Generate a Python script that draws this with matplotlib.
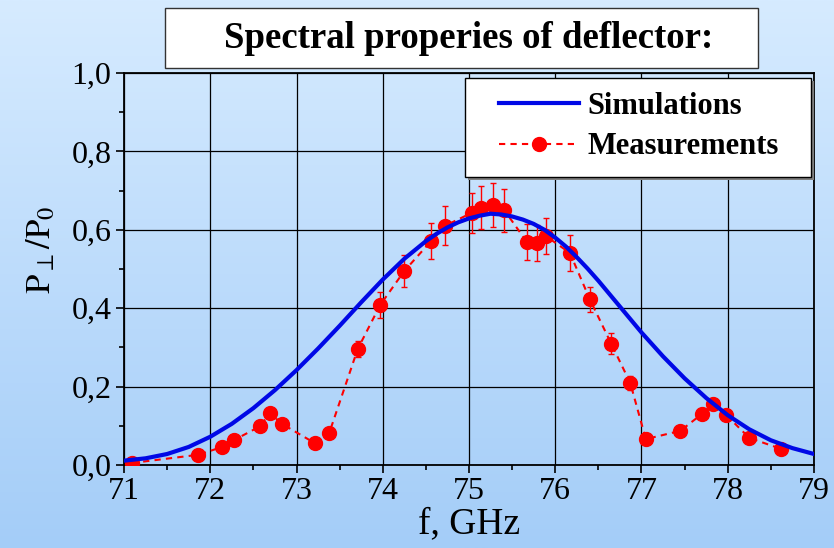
import numpy as np
import matplotlib.pyplot as plt
from matplotlib.patches import Rectangle
from matplotlib.colors import LinearSegmentedColormap

# simulation curve (finer steps around the peak)
sim_f = [71.0, 71.25, 71.5, 71.75, 72.0, 72.25, 72.5, 72.75, 73.0, 73.25, 73.5,
         73.75, 74.0, 74.25, 74.5, 74.625, 74.75, 74.875, 75.0, 75.125, 75.25,
         75.375, 75.5, 75.625, 75.75, 75.875, 76.0, 76.125, 76.25, 76.375,
         76.5, 76.75, 77.0, 77.25, 77.5, 77.75, 78.0, 78.25, 78.5, 78.75, 79.0]
sim_p = [0.011, 0.017, 0.028, 0.046, 0.072, 0.105, 0.145, 0.191, 0.242, 0.297, 0.355,
         0.415, 0.473, 0.526, 0.571, 0.590, 0.606, 0.619, 0.629, 0.636, 0.641,
         0.639, 0.634, 0.626, 0.615, 0.600, 0.580, 0.557, 0.530, 0.501,
         0.470, 0.404, 0.338, 0.277, 0.221, 0.171, 0.127, 0.091, 0.063, 0.043, 0.028]

# measured points with error bars
meas_f = [71.09, 71.86, 72.14, 72.28, 72.58, 72.69, 72.83, 73.21, 73.38, 73.71, 73.97,
          74.25, 74.56, 74.72, 75.03, 75.14, 75.28, 75.41, 75.67, 75.79, 75.89, 76.17,
          76.40, 76.65, 76.87, 77.05, 77.45, 77.70, 77.83, 77.98, 78.25, 78.62]
meas_p = [0.005, 0.026, 0.046, 0.064, 0.099, 0.133, 0.105, 0.056, 0.082, 0.296, 0.408,
          0.495, 0.571, 0.610, 0.643, 0.656, 0.663, 0.650, 0.569, 0.566, 0.584, 0.541,
          0.423, 0.309, 0.209, 0.066, 0.087, 0.130, 0.156, 0.128, 0.069, 0.041]
meas_err = [0.003, 0.004, 0.005, 0.006, 0.008, 0.010, 0.008, 0.005, 0.007, 0.020, 0.033,
            0.040, 0.046, 0.050, 0.052, 0.055, 0.056, 0.055, 0.045, 0.045, 0.047, 0.046,
            0.032, 0.027, 0.017, 0.006, 0.007, 0.010, 0.012, 0.010, 0.006, 0.004]

x_ticks = [71, 72, 73, 74, 75, 76, 77, 78, 79]
y_ticks = [0.0, 0.2, 0.4, 0.6, 0.8, 1.0]
y_labels = ['0,0', '0,2', '0,4', '0,6', '0,8', '1,0']

plt.rcParams['font.family'] = ['Liberation Serif', 'DejaVu Serif']
plt.rcParams['mathtext.fontset'] = 'stix'

fig = plt.figure(figsize=(8.34, 5.48), dpi=100)

# gradient background
bg = fig.add_axes([0, 0, 1, 1], zorder=-10)
cmap = LinearSegmentedColormap.from_list('bg', ['#d6ebff', '#a4cdf8'])
bg.imshow(np.linspace(0, 1, 256).reshape(-1, 1), aspect='auto', cmap=cmap,
          extent=[0, 1, 0, 1])
bg.set_axis_off()

ax = fig.add_axes([0.1487, 0.1515, 0.8273, 0.7153])
ax.set_facecolor('none')

ax.errorbar(meas_f, meas_p, yerr=meas_err, fmt='none', ecolor='red',
            elinewidth=1.0, capsize=2.5, capthick=1.0, zorder=3)
ax.plot(meas_f, meas_p, color='red', lw=1.5, ls=(0, (3, 2.5)), marker='o',
        ms=10, label='Measurements', zorder=3)
ax.plot(sim_f, sim_p, color='#0008e6', lw=3, label='Simulations', zorder=4,
        solid_joinstyle='round')

ax.set_xlim(71, 79)
ax.set_ylim(0, 1.0)
ax.set_xticks(x_ticks)
ax.set_xticks(np.arange(71.5, 79, 1.0), minor=True)
ax.set_yticks(y_ticks)
ax.set_yticklabels(y_labels)
ax.set_yticks([0.1, 0.3, 0.5, 0.7, 0.9], minor=True)
ax.tick_params(which='major', direction='out', length=6, width=1.2,
               labelsize=23, pad=3, top=False, right=False)
ax.tick_params(which='minor', direction='out', length=3.5, width=1.2,
               top=False, right=False)
ax.grid(True, which='major', color='black', lw=0.9)
for s in ax.spines.values():
    s.set_linewidth(1.3)

ax.set_xlabel('f, GHz', fontsize=27, labelpad=0)
ax.set_ylabel(r'$\mathrm{P}_{\perp}/\mathrm{P}_0$', fontsize=25)
ax.yaxis.set_label_coords(-0.095, 0.55)

# legend frame with shadow, drawn by hand
lx0, ly0, lw_, lh = 0.494, 0.7347, 0.5017, 0.2523
ax.add_patch(Rectangle((lx0 + 0.004, ly0 - 0.007), lw_, lh, transform=ax.transAxes,
                       facecolor='#808080', edgecolor='none', zorder=5,
                       clip_on=False))
ax.add_patch(Rectangle((lx0, ly0), lw_, lh, transform=ax.transAxes,
                       facecolor='white', edgecolor='black', lw=1.0, zorder=5,
                       clip_on=False))
h, l = ax.get_legend_handles_labels()
leg = ax.legend([h[1], h[0]], [l[1], l[0]], loc='center left',
                bbox_to_anchor=(0.5435, 0.8635), borderaxespad=0, borderpad=0,
                prop={'weight': 'bold', 'size': 22}, frameon=False,
                handlelength=2.62, handletextpad=0.26, labelspacing=0.38)
leg.set_zorder(6)

# title box
fig.patches.append(Rectangle((165 / 834, 1 - 68 / 548), 593 / 834, 60 / 548,
                             transform=fig.transFigure, facecolor='white',
                             edgecolor='#333333', lw=1.0))
fig.text(469 / 834, 1 - 38 / 548, 'Spectral properies of deflector:',
         ha='center', va='center', fontsize=26.5, fontweight='bold')

fig.savefig('out.png', dpi=100)
